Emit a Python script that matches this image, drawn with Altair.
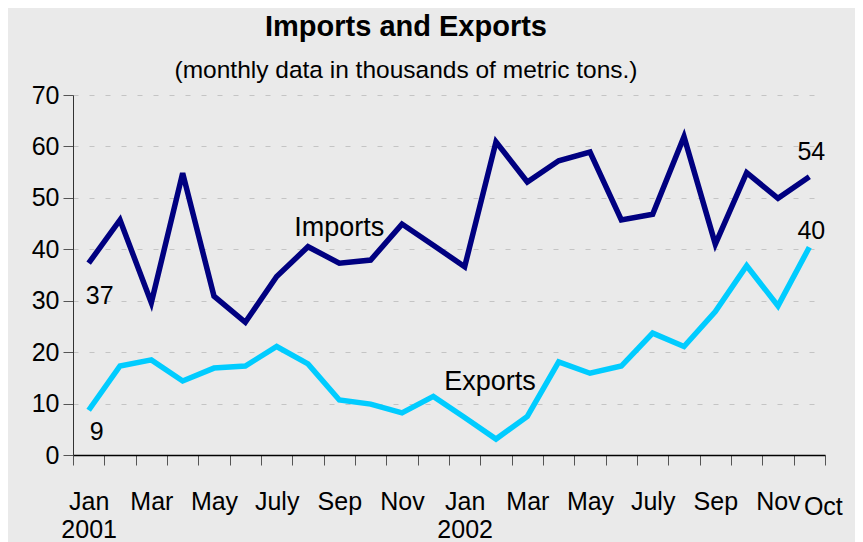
import altair as alt
import pandas as pd

months = ["Jan 2001", "Feb 2001", "Mar 2001", "Apr 2001", "May 2001", "Jun 2001",
          "Jul 2001", "Aug 2001", "Sep 2001", "Oct 2001", "Nov 2001", "Dec 2001",
          "Jan 2002", "Feb 2002", "Mar 2002", "Apr 2002", "May 2002", "Jun 2002",
          "Jul 2002", "Aug 2002", "Sep 2002", "Oct 2002", "Nov 2002", "Dec 2002"]
imports = [37.3, 45.7, 29.6, 54.8, 30.9, 25.8, 34.7, 40.5, 37.3, 37.9, 44.9, 40.8,
           36.6, 60.9, 53.1, 57.2, 58.9, 45.7, 46.8, 61.9, 41.0, 54.9, 49.9, 54.1]
exports = [8.7, 17.3, 18.5, 14.4, 16.9, 17.3, 21.1, 17.7, 10.7, 9.9, 8.2, 11.4,
           7.3, 3.1, 7.5, 18.1, 15.9, 17.3, 23.7, 21.1, 27.9, 36.8, 29.0, 40.4]
tick_labels = {"Jan 2001": ["Jan", "2001"], "Mar 2001": "Mar", "May 2001": "May",
               "Jul 2001": "July", "Sep 2001": "Sep", "Nov 2001": "Nov",
               "Jan 2002": ["Jan", "2002"], "Mar 2002": "Mar", "May 2002": "May",
               "Jul 2002": "July", "Sep 2002": "Sep", "Nov 2002": "Nov"}
last_label = "Oct"
series = ["Imports", "Exports"]
colors = ["#000080", "#00CCFF"]

FONT = "Liberation Sans Narrow, Arial Narrow, Liberation Sans, sans-serif"
FS = 25

rows = []
for m, i, e in zip(months, imports, exports):
    rows.append({"month": m, "series": "Imports", "value": i})
    rows.append({"month": m, "series": "Exports", "value": e})
df = pd.DataFrame(rows)


def lbl(v):
    if isinstance(v, list):
        return "[" + ",".join("'" + s + "'" for s in v) + "]"
    return "'" + v + "'"


expr = "''"
for k in reversed(list(tick_labels.keys())):
    expr = f"datum.value == '{k}' ? {lbl(tick_labels[k])} : ({expr})"

xenc = alt.X("month:N", sort=months,
             scale=alt.Scale(type="band", paddingInner=0, paddingOuter=0),
             axis=alt.Axis(title=None, labelExpr=expr, labelOverlap=False,
                           tickBand="extent", tickSize=10, tickColor="#555555",
                           domainColor="#000000", domainWidth=1.5,
                           labelFont=FONT, labelFontSize=FS, labelColor="#000000",
                           labelPadding=24, labelLineHeight=28, labelAngle=0))
yenc = alt.Y("value:Q",
             scale=alt.Scale(domain=[0, 70], nice=False, zero=True),
             axis=alt.Axis(title=None, values=list(range(0, 80, 10)), tickSize=10,
                           tickColor="#555555", domainColor="#333333",
                           grid=True, gridColor="#C4C4C4", gridDash=[5, 11],
                           labelFont=FONT, labelFontSize=FS, labelColor="#000000",
                           labelPadding=4))

lines = alt.Chart(df).mark_line(strokeWidth=5.5, strokeJoin="miter").encode(
    x=xenc, y=yenc,
    color=alt.Color("series:N", scale=alt.Scale(domain=series, range=colors), legend=None),
    detail="series:N",
)


def ann(month, value, text, dx, dy, size=FS):
    d = pd.DataFrame({"month": [month], "value": [value], "t": [text]})
    return alt.Chart(d).mark_text(font=FONT, fontSize=size, color="#000000",
                                  dx=dx, dy=dy, baseline="alphabetic", align="center").encode(
        x=alt.X("month:N", sort=months), y="value:Q", text="t:N")


layers = [
    lines,
    ann(months[0], imports[0], f"{imports[0]:.0f}", 11, 41),
    ann(months[0], exports[0], f"{exports[0]:.0f}", 8, 30),
    ann(months[-1], imports[-1], f"{imports[-1]:.0f}", 2, -17),
    ann(months[-1], exports[-1], f"{exports[-1]:.0f}", 2, -8),
    ann(months[8], imports[8], series[0], 0, -27, 27),
    ann(months[13], exports[13], series[1], -6, -49, 27),
    ann(months[-1], 0, last_label, 14, 60),
]

chart = alt.layer(*layers).properties(
    width=752, height=360,
    autosize=alt.AutoSizeParams(type="none"),
    padding={"left": 65, "top": 87, "right": 30, "bottom": 87},
    background="#EAEAEA",
    title=alt.TitleParams(text="Imports and Exports",
                          subtitle="(monthly data in thousands of metric tons.)",
                          font=FONT, fontSize=29, fontWeight="bold", color="#000000",
                          subtitleFont=FONT, subtitleFontSize=24.5, subtitleColor="#000000",
                          anchor="middle", dx=-43, offset=1, subtitlePadding=17),
).configure_view(stroke=None)

chart.save("out.html", embed_options={"renderer": "svg", "actions": False})
